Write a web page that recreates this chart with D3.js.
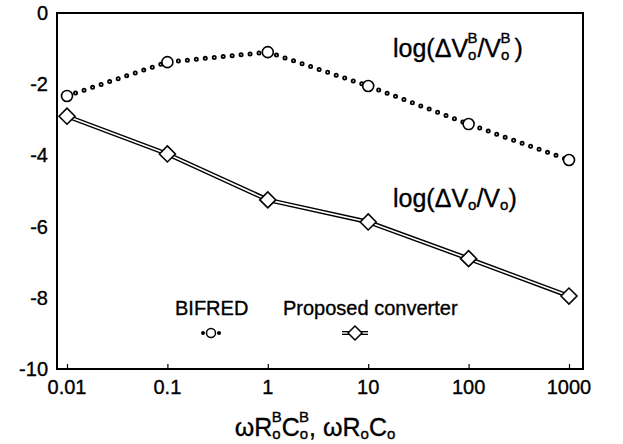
<!DOCTYPE html>
<html lang="en">
<head>
<meta charset="UTF-8">
<title>Ripple vs frequency</title>
<script src="https://d3js.org/d3.v7.min.js"></script>
<style>
    body { margin: 0; background: #fff; }
    svg text { font-family: "Liberation Sans", Arial, sans-serif; fill: #000; stroke: #000; stroke-width: 0.35px; }
</style>
</head>
<body>
<div id="chart"></div>
<script>
    // values
    var freqs = [0.01, 0.1, 1, 10, 100, 1000];
    var bifred = [-2.33, -1.38, -1.1, -2.05, -3.12, -4.13];
    var proposed = [-2.9, -3.96, -5.25, -5.87, -6.9, -7.95];
    var xTicks = [0.01, 0.1, 1, 10, 100, 1000];
    var xTickLabels = ["0.01", "0.1", "1", "10", "100", "1000"];
    var yTicks = [0, -2, -4, -6, -8, -10];

    var width = 623, height = 444;
    var frameL = 57, frameR = 583, frameT = 13, frameB = 369;

    var svg = d3.select("#chart").append("svg")
        .attr("width", width)
        .attr("height", height);

    var x = d3.scaleLog().domain([0.01, 1000]).range([67, 569]);
    var y = d3.scaleLinear().domain([-10, 0]).range([frameB, frameT]);

    // frame
    svg.append("rect")
        .attr("x", frameL).attr("y", frameT)
        .attr("width", frameR - frameL).attr("height", frameB - frameT)
        .attr("fill", "none").attr("stroke", "#000").attr("stroke-width", 2);

    // x axis, ticks inward
    var xAxis = svg.append("g")
        .attr("transform", "translate(0," + frameB + ")")
        .call(d3.axisTop(x).tickValues(xTicks).tickSize(5).tickFormat(""));
    xAxis.select(".domain").remove();
    xAxis.selectAll("line").attr("stroke-width", 1.2);

    svg.selectAll(".xlab").data(xTicks).enter().append("text")
        .attr("class", "xlab")
        .attr("x", function (d) { return x(d); })
        .attr("y", 394)
        .attr("text-anchor", "middle")
        .attr("font-size", 20)
        .text(function (d, i) { return xTickLabels[i]; });

    // y axis labels
    svg.selectAll(".ylab").data(yTicks).enter().append("text")
        .attr("class", "ylab")
        .attr("x", 48)
        .attr("y", function (d) { return y(d) + 7; })
        .attr("text-anchor", "end")
        .attr("font-size", 20)
        .text(function (d) { return d; });

    var line = d3.line()
        .x(function (d, i) { return x(freqs[i]); })
        .y(function (d) { return y(d); });

    // BIFRED dotted line (little rings)
    svg.append("path").datum(bifred)
        .attr("d", line).attr("fill", "none")
        .attr("stroke", "#000").attr("stroke-width", 5)
        .attr("stroke-linecap", "round").attr("stroke-dasharray", "0 9");
    svg.append("path").datum(bifred)
        .attr("d", line).attr("fill", "none")
        .attr("stroke", "#fff").attr("stroke-width", 1.4)
        .attr("stroke-linecap", "round").attr("stroke-dasharray", "0 9");

    // proposed converter double line
    svg.append("path").datum(proposed)
        .attr("d", line).attr("fill", "none")
        .attr("stroke", "#000").attr("stroke-width", 4.5);
    svg.append("path").datum(proposed)
        .attr("d", line).attr("fill", "none")
        .attr("stroke", "#fff").attr("stroke-width", 1.6);

    // markers
    svg.selectAll(".circ").data(bifred).enter().append("circle")
        .attr("class", "circ")
        .attr("cx", function (d, i) { return x(freqs[i]); })
        .attr("cy", function (d) { return y(d); })
        .attr("r", 5.5)
        .attr("fill", "#fff").attr("stroke", "#000").attr("stroke-width", 1.6);

    var diamond = "M-8,0L0,-8L8,0L0,8Z";
    svg.selectAll(".diam").data(proposed).enter().append("path")
        .attr("class", "diam")
        .attr("d", diamond)
        .attr("transform", function (d, i) { return "translate(" + x(freqs[i]) + "," + y(d) + ")"; })
        .attr("fill", "#fff").attr("stroke", "#000").attr("stroke-width", 1.6);

    // curve annotations
    var a1 = svg.append("text").attr("x", 393).attr("y", 57).attr("font-size", 25);
    a1.append("tspan").text("log(\u0394V");
    a1.append("tspan").attr("font-size", 15).attr("dy", 3).text("o");
    a1.append("tspan").attr("font-size", 15).attr("dx", -9).attr("dy", -17).text("B");
    a1.append("tspan").attr("dy", 14).text("/V");
    a1.append("tspan").attr("font-size", 15).attr("dy", 3).text("o");
    a1.append("tspan").attr("font-size", 15).attr("dx", -9).attr("dy", -17).text("B");
    a1.append("tspan").attr("dx", 4).attr("dy", 14).text(")");

    var a2 = svg.append("text").attr("x", 393).attr("y", 207).attr("font-size", 25);
    a2.append("tspan").text("log(\u0394V");
    a2.append("tspan").attr("font-size", 15).attr("dy", 3).text("o");
    a2.append("tspan").attr("dy", -3).text("/V");
    a2.append("tspan").attr("font-size", 15).attr("dy", 3).text("o");
    a2.append("tspan").attr("dy", -3).text(")");

    // legend
    svg.append("text").attr("x", 175).attr("y", 315).attr("font-size", 20).text("BIFRED");
    svg.append("text").attr("x", 283).attr("y", 315).attr("font-size", 20).text("Proposed converter");

    var lg1 = svg.append("g").attr("transform", "translate(211,333)");
    lg1.selectAll(".dot").data([-8, 8]).enter().append("circle")
        .attr("cx", function (d) { return d; }).attr("r", 2)
        .attr("fill", "#000");
    lg1.append("circle").attr("r", 4.5).attr("fill", "#fff").attr("stroke", "#000").attr("stroke-width", 1.5);

    var lg2 = svg.append("g").attr("transform", "translate(355,333)");
    lg2.append("line").attr("x1", -13).attr("x2", 13).attr("stroke", "#000").attr("stroke-width", 4);
    lg2.append("line").attr("x1", -13).attr("x2", 13).attr("stroke", "#fff").attr("stroke-width", 1.4);
    lg2.append("path").attr("d", "M-7,0L0,-7L7,0L0,7Z")
        .attr("fill", "#fff").attr("stroke", "#000").attr("stroke-width", 1.5);

    // x axis title
    var xt = svg.append("text").attr("x", 315).attr("y", 436)
        .attr("text-anchor", "middle").attr("font-size", 25);
    xt.append("tspan").text("\u03C9R");
    xt.append("tspan").attr("font-size", 15).attr("dy", 3).text("o");
    xt.append("tspan").attr("font-size", 15).attr("dx", -9).attr("dy", -17).text("B");
    xt.append("tspan").attr("dy", 14).text("C");
    xt.append("tspan").attr("font-size", 15).attr("dy", 3).text("o");
    xt.append("tspan").attr("font-size", 15).attr("dx", -9).attr("dy", -17).text("B");
    xt.append("tspan").attr("dy", 14).text(", \u03C9R");
    xt.append("tspan").attr("font-size", 15).attr("dy", 3).text("o");
    xt.append("tspan").attr("dy", -3).text("C");
    xt.append("tspan").attr("font-size", 15).attr("dy", 3).text("o");
</script>
</body>
</html>
